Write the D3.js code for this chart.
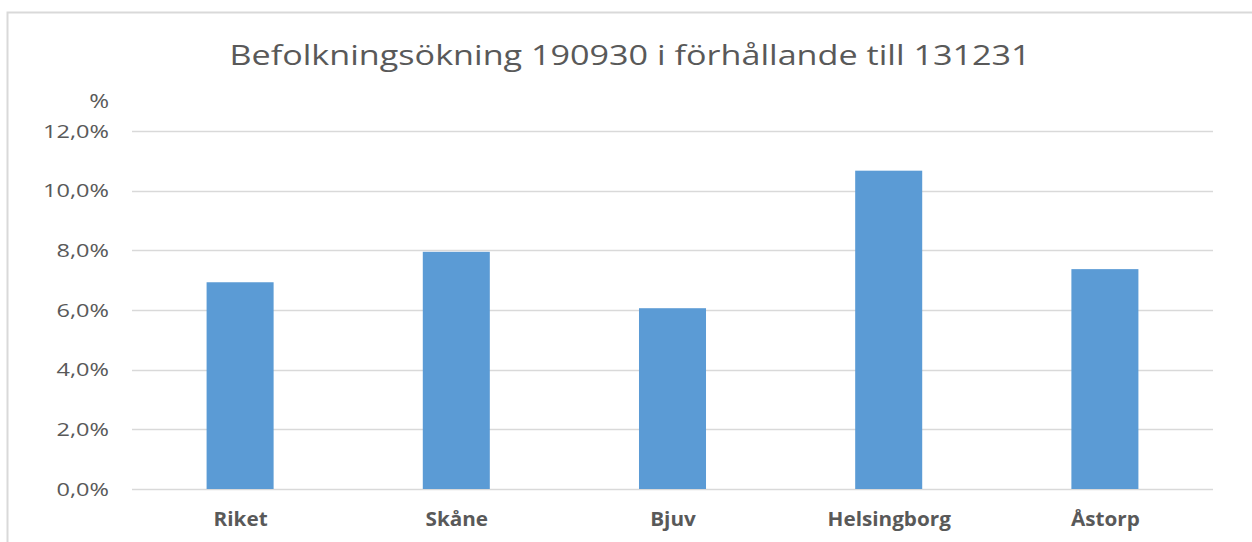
<!DOCTYPE html>
<html>
<head>
<meta charset="utf-8">
<script src="https://cdn.jsdelivr.net/npm/d3@7"></script>
<style>
  body { margin: 0; background: #fff; }
  svg { display: block; font-family: "Open Sans", "Noto Sans", sans-serif; }
</style>
</head>
<body>
<div id="container"></div>
<script>
"use strict";

const width = 1252;
const height = 542;

// data
const categories = ["Riket", "Skåne", "Bjuv", "Helsingborg", "Åstorp"];
const values = [6.93, 7.95, 6.06, 10.67, 7.37];
const yTicks = [0, 2, 4, 6, 8, 10, 12];
const title = "Befolkningsökning 190930 i förhållande till 131231";

const margin = { top: 131, right: 39, bottom: 53, left: 132 };

// the source picture is a bit stretched sideways, so text gets a horizontal scale
const place = (px, py, sx) => `translate(${px},${py}) scale(${sx},1)`;

const svg = d3.select("#container").append("svg")
    .attr("width", width)
    .attr("height", height);

// outer chart frame (only top and left visible)
svg.append("rect")
    .attr("x", 7.5)
    .attr("y", 12.5)
    .attr("width", width + 20)
    .attr("height", height + 20)
    .style("fill", "none")
    .style("stroke", "#d9d9d9")
    .style("stroke-width", 2);

const x = d3.scaleBand()
    .domain(categories)
    .range([margin.left, width - margin.right])
    .paddingInner(0.69)
    .paddingOuter(0.345);

const y = d3.scaleLinear()
    .domain([0, 12])
    .range([height - margin.bottom, margin.top]);

// gridlines
svg.append("g")
    .selectAll("line")
    .data(yTicks)
    .enter()
    .append("line")
    .attr("x1", margin.left)
    .attr("x2", width - margin.right)
    .attr("y1", d => Math.round(y(d)) + 0.5)
    .attr("y2", d => Math.round(y(d)) + 0.5)
    .style("stroke", "#d9d9d9")
    .style("stroke-width", 1.3);

// y tick labels
const fmt = d => d.toFixed(1).replace(".", ",") + "%";
svg.append("g")
    .selectAll("text")
    .data(yTicks)
    .enter()
    .append("text")
    .attr("transform", d => place(109, y(d), 1.24))
    .attr("dy", "0.35em")
    .attr("text-anchor", "end")
    .style("font-size", "19px")
    .style("fill", "#595959")
    .text(fmt);

// unit label
svg.append("text")
    .attr("transform", place(109, y(12) - 30, 1.2))
    .attr("dy", "0.35em")
    .attr("text-anchor", "end")
    .style("font-size", "20px")
    .style("fill", "#595959")
    .text("%");

// bars
svg.append("g")
    .selectAll("rect")
    .data(values)
    .enter()
    .append("rect")
    .attr("x", (d, i) => x(categories[i]))
    .attr("width", x.bandwidth())
    .attr("y", d => y(d))
    .attr("height", d => y(0) - y(d))
    .style("fill", "#5b9bd5");

// category labels
svg.append("g")
    .selectAll("text")
    .data(categories)
    .enter()
    .append("text")
    .attr("transform", d => place(x(d) + x.bandwidth() / 2 + 0.5, 526, 1.09))
    .attr("text-anchor", "middle")
    .style("font-size", "19px")
    .style("font-weight", "bold")
    .style("fill", "#595959")
    .text(d => d);

// title
svg.append("text")
    .attr("transform", place(630, 65, 1.22))
    .attr("text-anchor", "middle")
    .style("font-size", "28px")
    .style("fill", "#595959")
    .text(title);
</script>
</body>
</html>
